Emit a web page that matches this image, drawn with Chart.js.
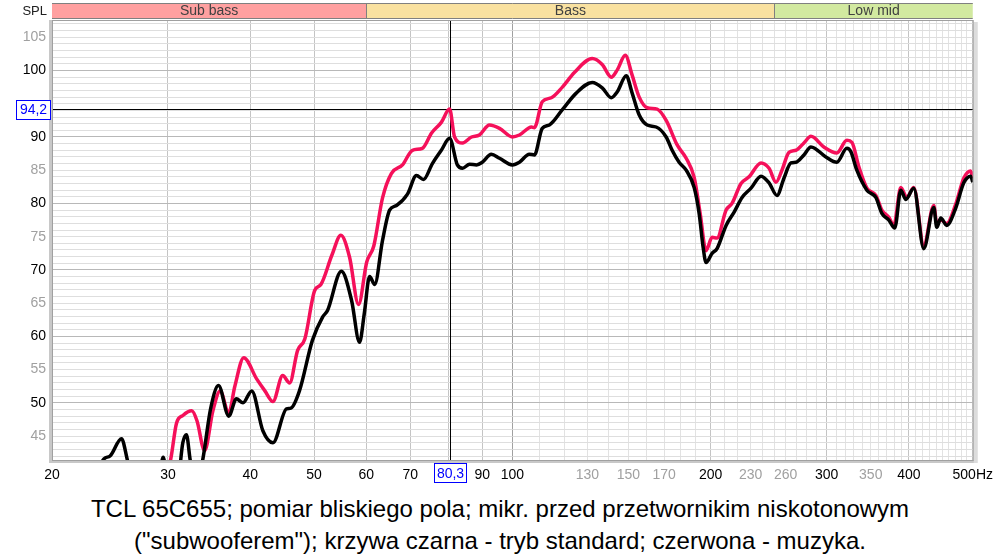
<!DOCTYPE html>
<html><head><meta charset="utf-8">
<script src="https://cdn.jsdelivr.net/npm/chart.js@4"></script>
<style>
html,body{margin:0;padding:0;background:#fff;width:1000px;height:560px;overflow:hidden}
#wrap{position:absolute;left:0;top:0;width:1000px;height:490px}
#cap{position:absolute;left:0;top:493px;width:1000px;text-align:center;font-family:"Liberation Sans",Arial,sans-serif;font-size:24px;line-height:32px;color:#000}
</style></head><body>
<div id="wrap"><canvas id="c" width="1000" height="490"></canvas></div>
<div id="cap">TCL 65C655; pomiar bliskiego pola; mikr. przed przetwornikim niskotonowym<br>("subwooferem"); krzywa czarna - tryb standard; czerwona - muzyka.</div>
<script>
// ---- data ----
const blackFreq = [23.0,24.0,24.5,25.5,26.0,26.6,29.0,29.5,30.0,31.0,31.6,32.0,32.4,33.0,33.9,34.8,35.8,37.1,38.1,39.0,40.2,41.8,43.3,45.4,46.1,47.5,49.7,51.5,52.4,55.0,57.0,58.6,59.6,60.7,61.8,63.5,65.1,66.7,69.3,71.5,73.3,75.6,78.0,80.3,82.5,84.0,86.1,88.2,90.0,92.9,95.6,100.0,102.5,106.1,108.0,111.0,113.8,119.1,125.0,132.2,136.9,141.3,144.3,148.9,152.0,155.8,160.2,165.3,171.2,174.8,179.1,183.6,188.8,192.1,194.8,196.8,201.0,204.5,211.1,217.1,223.2,230.3,238.5,245.3,252.2,258.4,264.8,269.5,277.1,284.0,299.2,310.9,322.0,326.5,333.4,345.3,356.3,363.9,372.9,380.7,388.8,395.7,406.8,421.3,436.3,440.9,447.1,456.5,471.1,484.5,496.4,500];
const blackDb = [38,41.6,42.0,44.6,41.6,37,38,41.8,38,38,44.0,45.2,41.6,37,41.6,49.0,52.6,48.0,50.6,50.0,51.8,45.8,44.0,49.1,49.2,51.8,59.4,62.9,63.9,69.8,65.4,59.1,63.5,69.0,67.8,74.4,79.0,79.7,81.4,84.2,83.6,86.0,88.0,89.8,85.8,85.3,85.9,85.8,86.2,87.4,86.8,85.8,86.2,87.4,87.3,91.3,91.8,94.1,96.6,98.2,97.4,95.9,96.8,99.2,96.6,93.3,91.8,91.5,90.0,88.0,86.2,85.0,82.4,78.5,73.4,71.1,72.5,73.2,76.7,78.7,80.9,82.3,84.1,83.1,81.2,83.8,86.1,86.2,87.3,88.5,87.0,86.2,88.3,87.8,85.0,82.0,80.9,78.5,77.5,76.3,82.0,80.6,82.3,73.2,79.4,76.4,77.8,76.7,79.3,83.1,84.1,83.2];
const redFreq = [29.6,30.3,30.9,31.6,32.6,33.2,34.1,35.1,36.0,37.1,37.9,39.1,40.9,42.1,43.3,44.8,45.9,47.2,48.4,50.1,51.2,53.2,54.9,56.6,58.4,60.1,61.6,63.5,65.5,68.1,70.5,73.0,75.4,78.0,80.3,81.7,84.0,86.7,89.1,92.3,95.6,100.0,102.5,106.9,108.0,111.0,114.6,119.1,124.2,132.2,136.9,141.3,144.3,148.4,152.0,155.8,160.2,165.9,171.2,177.9,183.6,188.8,192.8,196.8,201.0,204.5,211.1,215.5,222.4,228.7,238.5,245.3,251.3,256.6,263.0,269.5,277.1,284.0,297.1,310.9,322.0,327.7,335.8,345.3,356.3,363.9,372.9,379.4,388.8,397.0,406.8,421.3,436.3,440.9,447.1,456.5,471.1,484.5,496.4,500];
const redDb = [38,41.6,46.9,48.1,48.8,47.3,42.8,48.8,51.8,48.5,52.5,56.8,53.6,51.8,50.2,54.1,53.0,57.9,59.6,66.9,67.8,72.2,75.2,71.9,64.8,71.2,73.6,80.8,84.5,85.8,88.0,88.3,90.6,92.2,94.2,90.0,89.1,90.0,90.3,91.8,91.3,90.0,90.3,91.5,91.4,95.3,95.9,97.5,99.7,101.8,100.9,99.0,100.1,102.3,99.3,96.0,94.4,94.2,92.5,88.8,86.8,83.9,78.5,72.9,74.9,74.8,79.0,80.0,83.0,84.0,86.1,85.3,83.2,85.0,87.7,88.0,89.1,90.1,88.5,87.6,89.5,89.2,85.5,82.3,81.2,79.0,77.9,76.7,82.4,80.9,82.4,73.7,79.7,77.0,77.5,77.0,79.9,83.8,84.9,83.8];

const xLabelsBlack = [20,30,40,50,60,70,90,100,200,300,400,500];
const xLabelsGray = [130,150,170,230,260,350];
const yLabelsBlack = [50,60,70,80,90,100];
const yLabelsGray = [45,55,65,75,85,105];
const bandNames = ['Sub bass','Bass','Low mid'];
const bandEdges = [20,60,250,500];
const bandColors = ['#ffa0a0','#f9e1a0','#d2e9a0'];
const cursorFreq = 80.3;
const cursorDb = 94.2;
const xMin = 20, xMax = 500, yMin = 41.4, yMax = 107.6;

const FONT = '"Liberation Sans", Arial, sans-serif';
const fmt = v => v.toFixed(1).replace('.', ',');

const overlay = {
  id: 'overlay',
  beforeDatasetsDraw(chart) {
    const {ctx, chartArea: a, scales: {x, y}} = chart;
    const cx = Math.round(x.getPixelForValue(cursorFreq)) + 0.5;
    const cy = Math.round(y.getPixelForValue(cursorDb)) + 0.5;
    ctx.save();
    ctx.strokeStyle = '#000'; ctx.lineWidth = 1;
    ctx.beginPath();
    ctx.moveTo(cx, a.top); ctx.lineTo(cx, a.bottom);
    ctx.moveTo(a.left, cy); ctx.lineTo(a.right, cy);
    ctx.stroke();
    ctx.restore();
  },
  afterDraw(chart) {
    const {ctx, chartArea: a, scales: {x, y}} = chart;
    ctx.save();
    // frame & shadow
    ctx.fillStyle = '#c8c8c8';
    ctx.fillRect(a.left - 3, a.top, 3, a.bottom - a.top + 3);
    ctx.fillRect(a.left - 3, a.bottom, a.right - a.left + 6, 3);
    ctx.fillStyle = '#dcdcdc';
    ctx.fillRect(a.right + 1, a.top + 2, 4, a.bottom - a.top + 1);
    ctx.strokeStyle = '#a0a0a0'; ctx.lineWidth = 1;
    ctx.strokeRect(a.left + 0.5, a.top + 0.5, a.right - a.left, a.bottom - a.top);
    // bands
    const bt = 3, bb = 18;
    for (let i = 0; i < bandNames.length; i++) {
      const x0 = x.getPixelForValue(bandEdges[i]);
      const x1 = x.getPixelForValue(bandEdges[i + 1]);
      ctx.fillStyle = bandColors[i];
      ctx.fillRect(x0, bt, x1 - x0, bb - bt);
      ctx.fillStyle = '#404040';
      ctx.font = '14px ' + FONT;
      ctx.textAlign = 'center'; ctx.textBaseline = 'middle';
      ctx.fillText(bandNames[i], (x0 + x1) / 2, (bt + bb) / 2 + 1);
    }
    ctx.strokeStyle = '#808080';
    ctx.beginPath();
    ctx.moveTo(a.left, bt + 0.5); ctx.lineTo(a.right, bt + 0.5);
    ctx.moveTo(a.left, bb + 0.5); ctx.lineTo(a.right, bb + 0.5);
    for (let i = 1; i < bandEdges.length - 1; i++) {
      const xe = Math.round(x.getPixelForValue(bandEdges[i])) + 0.5;
      ctx.moveTo(xe, bt); ctx.lineTo(xe, bb);
    }
    ctx.stroke();
    // SPL
    ctx.fillStyle = '#202020';
    ctx.font = '13px ' + FONT;
    ctx.textAlign = 'right'; ctx.textBaseline = 'middle';
    ctx.fillText('SPL', 47, 11);
    // cursor boxes
    const cx = Math.round(x.getPixelForValue(cursorFreq));
    const cy = Math.round(y.getPixelForValue(cursorDb));
    ctx.font = '14px ' + FONT;
    ctx.fillStyle = '#fff';
    ctx.fillRect(16, cy - 9, 34, 19);
    ctx.strokeStyle = '#0000ff';
    ctx.strokeRect(16.5, cy - 8.5, 34, 19);
    ctx.fillStyle = '#0000ff';
    ctx.textAlign = 'center';
    ctx.fillText(fmt(cursorDb), 33.5, cy + 1);
    ctx.fillStyle = '#fff';
    ctx.fillRect(cx - 16, 463, 33, 19);
    ctx.strokeRect(cx - 16 + 0.5, 463.5, 32, 19);
    ctx.fillStyle = '#0000ff';
    ctx.fillText(fmt(cursorFreq), cx + 0.5, 474);
    ctx.restore();
  }
};

const xTickVals = [];
for (let v = 20; v <= 500; v += 10) xTickVals.push(v);
const yTickVals = [];
for (let v = 42; v <= 107; v++) yTickVals.push(v);

new Chart(document.getElementById('c'), {
  type: 'line',
  data: {
    datasets: [
      { label: 'standard', data: blackFreq.map((f, i) => ({x: f, y: blackDb[i]})),
        borderColor: '#000000', borderWidth: 3.5, pointRadius: 0, cubicInterpolationMode: 'monotone', clip: 0, fill: false },
      { label: 'muzyka', data: redFreq.map((f, i) => ({x: f, y: redDb[i]})),
        borderColor: '#f5105a', borderWidth: 3.5, pointRadius: 0, cubicInterpolationMode: 'monotone', clip: 0, fill: false }
    ]
  },
  options: {
    responsive: false, animation: false, devicePixelRatio: 1,
    layout: { padding: { left: 0, right: 26, top: 20, bottom: 0 } },
    plugins: { legend: { display: false }, tooltip: { enabled: false } },
    events: [],
    scales: {
      x: {
        type: 'logarithmic', min: xMin, max: xMax,
        afterFit: s => { s.height = 30; },
        afterBuildTicks: s => { s.ticks = xTickVals.map(v => ({value: v})); },
        border: { display: false },
        grid: { drawTicks: false,
          color: c => { const v = c.tick && c.tick.value; if (v === 100) return '#a0a0a0'; if (v < 100 || v % 100 === 0) return '#c4c4c4'; return '#e2e2e2'; } },
        ticks: { autoSkip: false, maxRotation: 0, minRotation: 0, padding: 7,
          font: { family: FONT, size: 14 },
          color: c => xLabelsGray.includes(c.tick.value) ? '#a0a0a0' : '#000000',
          callback: v => v === 500 ? '500Hz' : ((xLabelsBlack.includes(v) || xLabelsGray.includes(v)) ? String(v) : '') }
      },
      y: {
        type: 'linear', min: yMin, max: yMax,
        afterFit: s => { s.width = 52; },
        afterBuildTicks: s => { s.ticks = yTickVals.map(v => ({value: v})); },
        border: { display: false },
        grid: { drawTicks: false,
          color: c => { const v = c.tick && c.tick.value; return (v % 10 === 0) ? '#b8b8b8' : '#dedede'; } },
        ticks: { autoSkip: false, padding: 6,
          font: { family: FONT, size: 14 },
          color: c => yLabelsGray.includes(c.tick.value) ? '#a0a0a0' : '#000000',
          callback: v => (yLabelsBlack.includes(v) || yLabelsGray.includes(v)) ? String(v) : '' }
      }
    }
  },
  plugins: [overlay]
});
</script>
</body></html>
